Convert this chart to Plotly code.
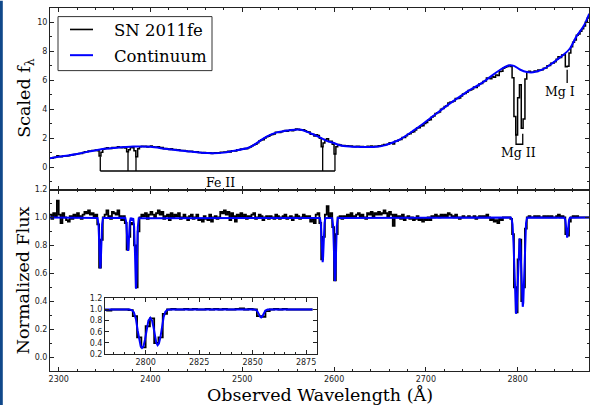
import numpy as np
import plotly.graph_objects as go

# ---------------- data ----------------
# normalized flux of SN 2011fe, 2 Angstrom bins starting at 2290 A
norm_start = 2290.0
norm_step = 2.0
norm_flux = [
    1.02, 0.99, 1.03, 1.01, 1.12, 1.02, 0.96, 1.03, 1.00, 0.98,   # 2290
    0.97, 1.01, 0.99, 1.02, 1.00, 1.03, 1.01, 0.99, 1.02, 1.04,   # 2310
    1.03, 1.05, 1.02, 1.03, 1.01, 1.02, 0.95, 0.64, 0.84, 1.00,   # 2330
    1.02, 1.05, 1.01, 0.99, 1.04, 1.03, 1.02, 1.05, 1.01, 0.98,   # 2350
    1.01, 0.96, 0.77, 0.86, 0.96, 0.95, 0.80, 0.50, 0.90, 1.00,   # 2370
    1.02, 1.01, 1.03, 0.99, 1.02, 1.04, 1.02, 1.00, 1.03, 1.05,   # 2390
    1.02, 1.04, 0.99, 1.01, 1.02, 0.98, 1.03, 1.00, 1.02, 1.01,   # 2410
    1.03, 0.99, 1.00, 1.02, 1.00, 0.98, 1.01, 1.02, 0.99, 1.00,   # 2430
    1.02, 0.98, 0.99, 0.97, 1.01, 0.99, 0.98, 1.02, 0.97, 1.00,   # 2450
    1.01, 0.99, 1.00, 1.04, 1.03, 1.05, 1.02, 1.04, 0.98, 1.03,   # 2470
    1.01, 0.97, 1.02, 1.01, 1.03, 1.00, 1.02, 0.99, 1.01, 1.00,   # 2490
    1.02, 1.03, 0.99, 1.00, 1.02, 1.01, 0.98, 1.00, 1.01, 0.99,   # 2510
    1.01, 1.00, 0.99, 1.02, 1.01, 0.99, 1.00, 1.01, 1.02, 0.99,   # 2530
    1.00, 1.01, 0.98, 1.00, 1.02, 1.01, 0.99, 1.00, 1.02, 1.01,   # 2550
    1.00, 1.01, 0.97, 0.99, 0.96, 1.02, 1.03, 0.96, 0.70, 0.86,   # 2570
    1.02, 1.08, 1.00, 1.03, 0.93, 0.55, 0.88, 1.00, 1.01, 0.99,   # 2590
    1.01, 1.00, 1.02, 1.01, 1.03, 1.01, 1.00, 1.02, 1.03, 1.01,   # 2610
    1.02, 1.00, 0.99, 1.03, 1.02, 1.04, 1.01, 1.03, 1.02, 1.04,   # 2630
    1.02, 1.03, 1.05, 1.03, 1.01, 1.04, 1.02, 0.94, 1.02, 1.00,   # 2650
    1.01, 0.99, 1.02, 0.98, 1.00, 1.01, 0.99, 1.00, 0.98, 0.99,   # 2670
    1.01, 0.98, 0.99, 0.97, 0.99, 0.98, 1.00, 0.98, 1.01, 1.00,   # 2690
    1.02, 1.01, 1.00, 1.02, 1.01, 1.02, 1.01, 1.03, 1.02, 1.01,   # 2710
    1.00, 1.02, 1.00, 0.99, 1.00, 1.01, 1.00, 1.00, 1.01, 1.00,   # 2730
    1.00, 1.01, 0.99, 1.00, 1.01, 1.00, 1.01, 1.00, 1.02, 1.00,   # 2750
    0.98, 0.99, 0.97, 0.98, 0.96, 0.99, 0.98, 1.00, 1.00, 1.00,   # 2770
    1.00, 0.99, 0.88, 0.50, 0.32, 0.70, 0.84, 0.40, 0.50, 0.92,   # 2790
    1.00, 1.01, 1.00, 1.00, 1.01, 1.00, 1.01, 1.00, 1.00, 1.01,   # 2810
    1.00, 1.01, 1.00, 1.01, 1.00, 1.00, 1.01, 1.02, 1.00, 1.01,   # 2830
    1.00, 0.88, 0.87, 0.97, 1.00, 1.01, 1.00, 1.01, 1.00, 1.00,   # 2850
    1.00, 1.00, 1.00, 1.00, 1.00,                                 # 2870
]

# absorption-line model (normalized)
model_wl = [
    2290.0,
    2342.3, 2343.3, 2343.8, 2344.3, 2344.8, 2345.3, 2345.8, 2346.3, 2346.8, 2347.3, 2348.3,
    2372.5, 2373.5, 2374.0, 2374.5, 2375.0, 2375.5, 2376.0, 2376.5, 2377.0, 2377.5, 2378.5,
    2379.8,
    2381.2, 2382.2, 2382.7, 2383.2, 2383.7, 2384.2, 2384.7, 2385.2, 2385.7, 2386.2, 2387.2,
    2584.6, 2585.6, 2586.1, 2586.6, 2587.1, 2587.6, 2588.1, 2588.6, 2589.1, 2589.6, 2590.6,
    2598.0, 2599.0, 2599.5, 2600.0, 2600.5, 2601.0, 2601.5, 2602.0, 2602.5, 2603.0, 2604.0,
    2792.5, 2793.5, 2794.5, 2795.5, 2796.3, 2797.0, 2797.7, 2798.3, 2799.0, 2799.7, 2800.5,
    2801.3, 2802.2, 2803.0, 2803.8, 2804.5, 2805.0, 2805.6, 2806.2, 2806.9, 2807.6, 2808.4,
    2809.2, 2810.2, 2811.5,
    2851.0, 2852.0, 2852.5, 2853.0, 2853.5, 2854.0, 2854.5, 2855.0, 2855.5, 2856.0, 2857.0,
    2878.0,
]
model_flux = [
    1.0,
    0.996, 0.951, 0.881, 0.778, 0.678, 0.635, 0.678, 0.778, 0.881, 0.951, 0.996,
    0.997, 0.968, 0.922, 0.854, 0.788, 0.760, 0.788, 0.854, 0.922, 0.968, 0.997,
    0.985,
    0.994, 0.931, 0.834, 0.690, 0.550, 0.490, 0.550, 0.690, 0.834, 0.931, 0.994,
    0.996, 0.957, 0.896, 0.806, 0.718, 0.680, 0.718, 0.806, 0.896, 0.957, 0.996,
    0.995, 0.938, 0.852, 0.723, 0.598, 0.544, 0.598, 0.723, 0.852, 0.938, 0.995,
    1.000, 0.990, 0.950, 0.820, 0.620, 0.440, 0.340, 0.310, 0.340, 0.460, 0.660,
    0.800, 0.850, 0.800, 0.660, 0.500, 0.400, 0.360, 0.390, 0.500, 0.680, 0.860,
    0.960, 0.995, 1.000,
    0.998, 0.981, 0.953, 0.913, 0.873, 0.856, 0.873, 0.913, 0.953, 0.981, 0.998,
    1.0,
]

# fitted continuum (scaled f_lambda)
cont_wl = [2290, 2300, 2310, 2320, 2327, 2345, 2360, 2381, 2400, 2418, 2440, 2462,
           2480, 2490, 2505, 2512, 2520, 2527, 2537, 2552, 2563, 2570, 2577, 2585,
           2592, 2599, 2606, 2617, 2630, 2646, 2655, 2664, 2672, 2686, 2697, 2708,
           2726, 2744, 2762, 2781, 2790, 2796, 2803, 2810, 2817, 2828, 2838, 2850,
           2857, 2864, 2872, 2878]
cont_val = [0.60, 0.72, 0.80, 0.90, 1.00, 1.22, 1.32, 1.42, 1.40, 1.25, 1.10, 0.97,
            1.00, 1.12, 1.30, 1.50, 1.85, 2.12, 2.38, 2.55, 2.60, 2.45, 2.27, 2.04,
            1.81, 1.68, 1.51, 1.42, 1.39, 1.40, 1.50, 1.70, 1.92, 2.50, 3.00, 3.53,
            4.39, 5.17, 5.86, 6.73, 7.03, 7.00, 6.73, 6.57, 6.55, 6.77, 7.19, 7.76,
            8.20, 9.02, 9.75, 10.60]

# line identification markers (top panel)
fe2_wl = [2345.3, 2375.5, 2384.2, 2587.6, 2601.0]
fe2_tip = [0.73, 1.08, 0.73, 1.47, 0.90]
fe2_base = -0.27
mg2_wl = [2798.3, 2805.6]
mg2_tip = 2.30
mg2_base = 1.58
mg1_wl = 2854.0
mg1_top, mg1_bot = 6.73, 5.81

legend_names = ["SN 2011fe", "Continuum"]
legend_colors = ["black", "#0000ff"]

# ---------------- derived ----------------
wl = norm_start + norm_step * np.arange(len(norm_flux))
flux = np.array(norm_flux)
top_flux = np.interp(wl, cont_wl, cont_val) * flux

SERIF = "DejaVu Serif"
SANS = "DejaVu Sans"
AX = "#222222"

fig = go.Figure()

# top panel
fig.add_trace(go.Scatter(x=wl, y=top_flux, mode="lines", line=dict(color="black", width=1.5, shape="hv"),
                         name=legend_names[0], xaxis="x2", yaxis="y2"))
fig.add_trace(go.Scatter(x=cont_wl, y=cont_val, mode="lines",
                         line=dict(color="#0000ff", width=2, shape="spline", smoothing=0.8),
                         name=legend_names[1], xaxis="x2", yaxis="y2"))

# marker lines
mx, my = [], []
for w, t in zip(fe2_wl, fe2_tip):
    mx += [w, w, None]
    my += [t, fe2_base, None]
mx += [fe2_wl[0], fe2_wl[-1], None]
my += [fe2_base, fe2_base, None]
mx += [mg2_wl[0], mg2_wl[0], mg2_wl[1], mg2_wl[1], None]
my += [mg2_tip, mg2_base, mg2_base, mg2_tip, None]
mx += [mg1_wl, mg1_wl]
my += [mg1_top, mg1_bot]
fig.add_trace(go.Scatter(x=mx, y=my, mode="lines", line=dict(color="black", width=1.3),
                         showlegend=False, xaxis="x2", yaxis="y2", hoverinfo="skip"))

# bottom panel
fig.add_trace(go.Scatter(x=wl, y=flux, mode="lines", line=dict(color="black", width=1.8, shape="hv"),
                         showlegend=False, xaxis="x", yaxis="y"))
fig.add_trace(go.Scatter(x=model_wl, y=model_flux, mode="lines", line=dict(color="#0000ff", width=2),
                         showlegend=False, xaxis="x", yaxis="y"))

# inset
fig.add_trace(go.Scatter(x=wl, y=flux, mode="lines", line=dict(color="black", width=1.8, shape="hv"),
                         showlegend=False, xaxis="x3", yaxis="y3"))
fig.add_trace(go.Scatter(x=model_wl, y=model_flux, mode="lines", line=dict(color="#0000ff", width=2),
                         showlegend=False, xaxis="x3", yaxis="y3"))

tickfont = dict(family=SANS, size=8, color=AX)
common = dict(showline=True, linecolor=AX, linewidth=1, mirror="ticks", ticks="inside",
              tickcolor=AX, ticklen=4, showgrid=False, zeroline=False, tickfont=tickfont)

L, R, T, B, W, H = 50, 9, 4, 34, 598, 405
PW, PH = W - L - R, H - T - B


def px(xp):
    return (xp - L) / PW


def py(yp):
    return (H - B - yp) / PH


XR = [2290.5, 2877.8]
fig.update_layout(
    width=W, height=H,
    margin=dict(l=L, r=R, t=T, b=B),
    paper_bgcolor="white", plot_bgcolor="white",
    showlegend=False,
    xaxis=dict(domain=[0, 1], anchor="y", range=XR, tick0=2300, dtick=100,
               minor=dict(ticks="inside", ticklen=2, dtick=20, tickcolor=AX), **common),
    yaxis=dict(domain=[0, 0.5], anchor="x", range=[-0.1, 1.2], tick0=0, dtick=0.2, tickformat=".1f",
               minor=dict(ticks="inside", ticklen=2, dtick=0.1, tickcolor=AX), **common),
    xaxis2=dict(domain=[0, 1], anchor="y2", range=XR, matches="x", tick0=2300, dtick=100, showticklabels=False,
                minor=dict(ticks="inside", ticklen=2, dtick=20, tickcolor=AX), **common),
    yaxis2=dict(domain=[0.5, 1], anchor="x2", range=[-1.55, 11.0], tick0=0, dtick=2,
                minor=dict(ticks="inside", ticklen=2, dtick=1, tickcolor=AX), **common),
    xaxis3=dict(domain=[0.102, 0.495], anchor="y3", range=[2781, 2880], tickvals=[2800, 2825, 2850, 2875],
                minor=dict(ticks="inside", ticklen=2, dtick=5, tickcolor=AX), **common),
    yaxis3=dict(domain=[0.0464, 0.2002], anchor="x3", range=[0.2, 1.2], tick0=0.2, dtick=0.2, tickformat=".1f",
                **common),
)

TITLE = 17.5
ann = [
    dict(text="Fe II", x=2476, y=-1.05, xref="x2", yref="y2", showarrow=False,
         font=dict(family=SERIF, size=12.5, color="black")),
    dict(text="Mg II", x=2801.5, y=1.0, xref="x2", yref="y2", showarrow=False,
         font=dict(family=SERIF, size=12.5, color="black")),
    dict(text="Mg I", x=2846, y=5.24, xref="x2", yref="y2", showarrow=False,
         font=dict(family=SERIF, size=12.5, color="black")),
    dict(text="Scaled f<sub>λ</sub>", x=0, y=0.75, xref="paper", yref="paper", showarrow=False,
         textangle=-90, xanchor="center", yanchor="middle", xshift=-24,
         font=dict(family=SERIF, size=TITLE, color="black")),
    dict(text="Normalized Flux", x=0, y=0.25, xref="paper", yref="paper", showarrow=False,
         textangle=-90, xanchor="center", yanchor="middle", xshift=-27,
         font=dict(family=SERIF, size=TITLE, color="black")),
    dict(text="Observed Wavelength (Å)", x=0.5, y=0, xref="paper", yref="paper", showarrow=False,
         xanchor="center", yanchor="middle", yshift=-24,
         font=dict(family=SERIF, size=TITLE, color="black")),
]

# legend box (drawn in the top panel, upper-left)
shapes = [
    dict(type="rect", xref="paper", yref="paper", x0=px(58), x1=px(212), y0=py(67.3), y1=py(12.7),
         fillcolor="white", line=dict(color="#333333", width=1), layer="above"),
]
for i, (name, col) in enumerate(zip(legend_names, legend_colors)):
    yrow = 25.7 + 26 * i
    shapes.append(dict(type="line", xref="paper", yref="paper", x0=px(70), x1=px(93), y0=py(yrow), y1=py(yrow),
                       line=dict(color=col, width=1.6 if i == 0 else 2), layer="above"))
    ann.append(dict(text=name, x=px(112), y=py(yrow + 1), xref="paper", yref="paper", showarrow=False,
                    xanchor="left", yanchor="middle", font=dict(family=SERIF, size=16.5, color="black")))

# dark frame strip at the left edge of the image
shapes.append(dict(type="rect", xref="paper", yref="paper", x0=px(0), x1=px(2.8), y0=-0.1, y1=1.02,
                   fillcolor="#10488a", line=dict(width=0), layer="above"))

fig.update_layout(annotations=ann, shapes=shapes)

fig.write_html("out.html", config={"displayModeBar": False},
               post_script="document.body.style.margin='0px';document.body.style.padding='0px';")
